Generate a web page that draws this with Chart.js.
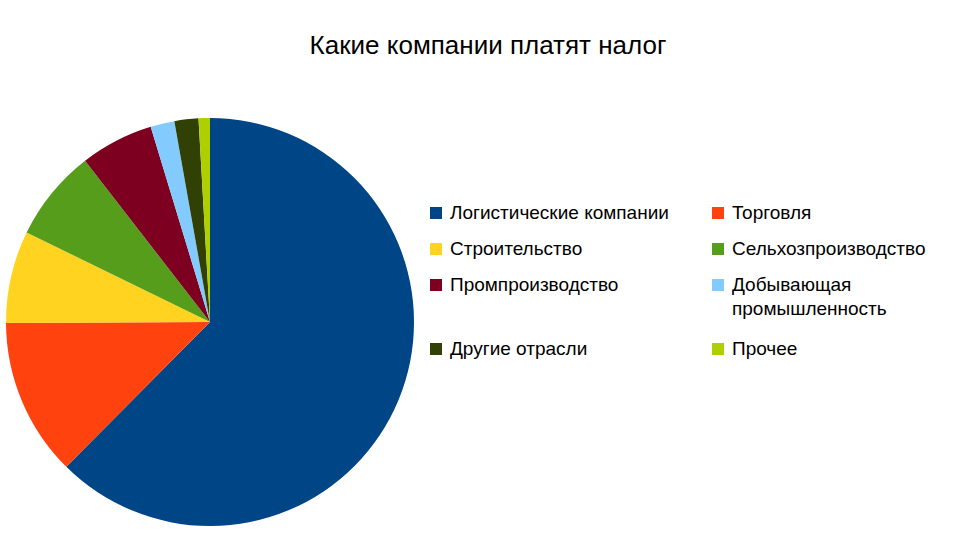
<!DOCTYPE html>
<html><head><meta charset="utf-8">
<script src="https://cdn.jsdelivr.net/npm/chart.js@4"></script>
<style>
body{margin:0;width:976px;height:559px;background:#fff;font-family:"Liberation Sans",Arial,sans-serif;position:relative;overflow:hidden}
#title{position:absolute;top:30px;left:0;width:976px;text-align:center;font-size:26px;color:#000}
#wrap{position:absolute;left:6px;top:117px;width:408px;height:410px}
.lg{position:absolute;font-size:19px;color:#000;line-height:24px}
.lg i{position:absolute;left:-20px;top:6px;width:12px;height:12px}
</style></head><body>
<div id="title">Какие компании платят налог</div>
<div id="wrap"><canvas id="pie"></canvas></div>
<div id="legend"></div>
<script>
const labels = ['Логистические компании', 'Торговля', 'Строительство', 'Сельхозпроизводство', 'Промпроизводство', 'Добывающая промышленность', 'Другие отрасли', 'Прочее'];
const values = [62.5, 12.5, 7.3, 7.3, 5.8, 1.9, 1.9, 0.9];
const colors = ['#004586', '#ff420e', '#ffd320', '#579d1c', '#7e0021', '#83caff', '#314004', '#aecf00'];
const legendText = ['Логистические компании', 'Торговля', 'Строительство', 'Сельхозпроизводство', 'Промпроизводство', 'Добывающая<br>промышленность', 'Другие отрасли', 'Прочее'];
const legendPos = [[450, 201], [732, 201], [450, 237], [732, 237], [450, 273], [732, 273], [450, 337], [732, 337]];

const legend = document.getElementById('legend');
legendText.forEach((t, i) => {
    const d = document.createElement('div');
    d.className = 'lg';
    d.style.left = legendPos[i][0] + 'px';
    d.style.top = legendPos[i][1] + 'px';
    d.innerHTML = '<i style="background:' + colors[i] + '"></i>' + t;
    legend.appendChild(d);
});

new Chart(document.getElementById('pie'), {
    type: 'pie',
    data: { labels, datasets: [{ data: values, backgroundColor: colors, borderWidth: 0 }] },
    options: {
        responsive: true,
        maintainAspectRatio: false,
        animation: false,
        layout: { padding: 0 },
        plugins: { legend: { display: false }, tooltip: { enabled: false } },
    },
});
</script>
</body></html>
